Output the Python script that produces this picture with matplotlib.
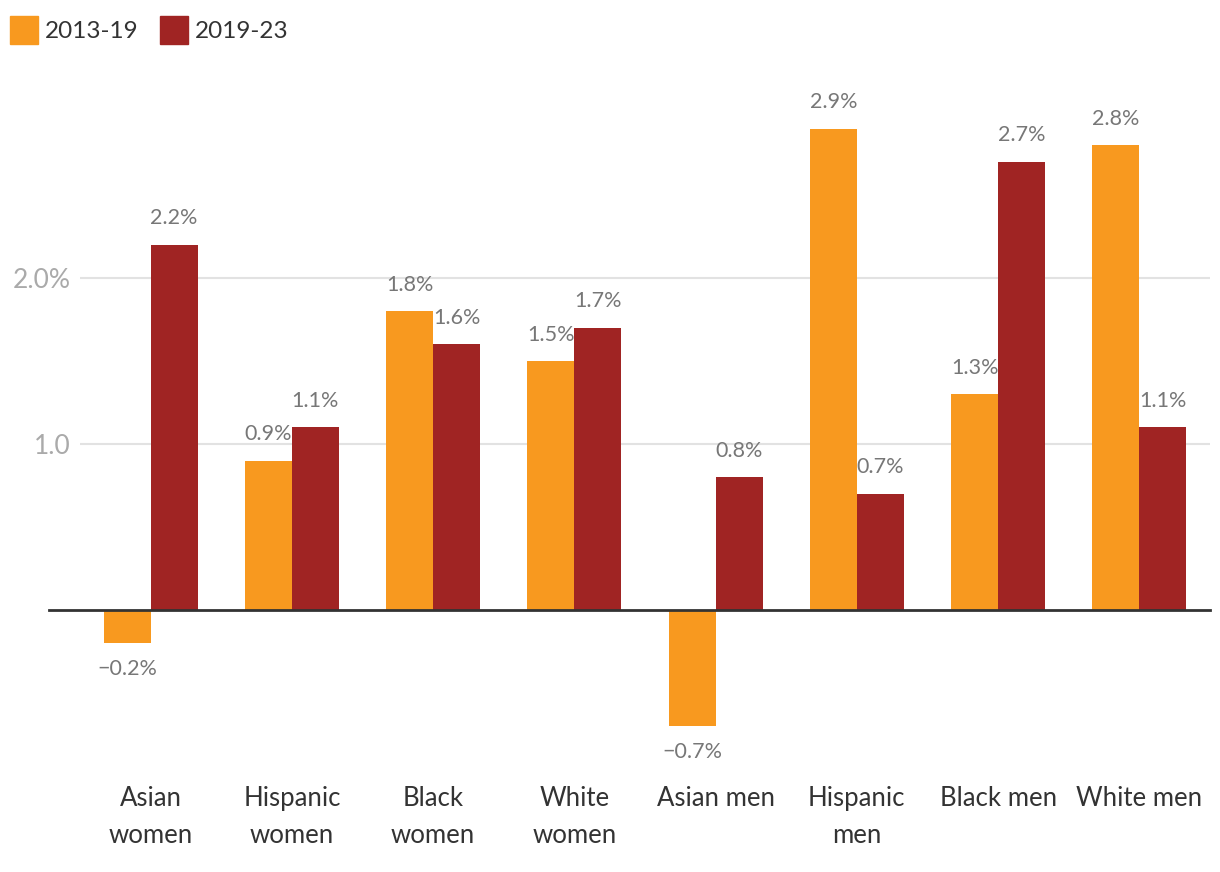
import matplotlib
matplotlib.use("Agg")
import matplotlib.pyplot as plt
import numpy as np
from matplotlib.patches import Rectangle

plt.rcParams['font.family'] = ['Lato', 'DejaVu Sans']

categories = ["Asian\nwomen", "Hispanic\nwomen", "Black\nwomen", "White\nwomen",
              "Asian men", "Hispanic\nmen", "Black men", "White men"]
series_names = ["2013-19", "2019-23"]
vals_2013_19 = [-0.2, 0.9, 1.8, 1.5, -0.7, 2.9, 1.3, 2.8]
vals_2019_23 = [2.2, 1.1, 1.6, 1.7, 0.8, 0.7, 2.7, 1.1]
yticks = [1.0, 2.0]
ytick_labels = ["1.0", "2.0%"]

ORANGE = "#F8991F"
RED = "#A02423"

fig = plt.figure(figsize=(12.2, 8.72), dpi=100)
W, H = 1220, 872
left, right = 80 / W, 1210 / W
top_px, bot_px = 78.8, 759.4
ax = fig.add_axes([left, 1 - bot_px / H, right - left, (bot_px - top_px) / H])

x = np.arange(len(categories))
bw = 1 / 3
b1 = ax.bar(x - bw / 2, vals_2013_19, width=bw, color=ORANGE, zorder=2)
b2 = ax.bar(x + bw / 2, vals_2019_23, width=bw, color=RED, zorder=2)

ax.set_xlim(-0.5, len(categories) - 0.5)
ax.set_ylim(-0.9, 3.2)

for bars, vals in ((b1, vals_2013_19), (b2, vals_2019_23)):
    for rect, v in zip(bars, vals):
        cx = rect.get_x() + rect.get_width() / 2
        txt = f"{v:.1f}%".replace("-", "\u2212")
        if v >= 0:
            ax.annotate(txt, (cx, v), xytext=(0, 19), textcoords="offset points",
                        ha="center", va="center", fontsize=15.5, color="#777777")
        else:
            ax.annotate(txt, (cx, v), xytext=(0, -18.5), textcoords="offset points",
                        ha="center", va="center", fontsize=15.5, color="#777777")

# grid and zero line
for yt in yticks:
    ax.axhline(yt, color="#e2e2e2", lw=1.5, zorder=0)
ax.axhline(0, color="#333333", lw=2, zorder=3, xmin=-0.027, clip_on=False)

ax.set_yticks(yticks)
ax.set_yticklabels(ytick_labels, fontsize=19, color="#aaaaaa")
ax.tick_params(axis="y", length=0, pad=7)
ax.set_xticks(x)
ax.set_xticklabels(categories, fontsize=18.5, color="#333333", linespacing=1.6)
ax.tick_params(axis="x", length=0, pad=19)

for s in ax.spines.values():
    s.set_visible(False)

# legend
fig.patches.append(Rectangle((10 / W, 1 - 44 / H), 28 / W, 28 / H, transform=fig.transFigure,
                             color=ORANGE, figure=fig))
fig.text(45 / W, 1 - 31 / H, series_names[0], fontsize=17.5, color="#333333", va="center", ha="left")
fig.patches.append(Rectangle((160 / W, 1 - 44 / H), 28 / W, 28 / H, transform=fig.transFigure,
                             color=RED, figure=fig))
fig.text(195 / W, 1 - 31 / H, series_names[1], fontsize=17.5, color="#333333", va="center", ha="left")

fig.savefig("out.png", dpi=100)
